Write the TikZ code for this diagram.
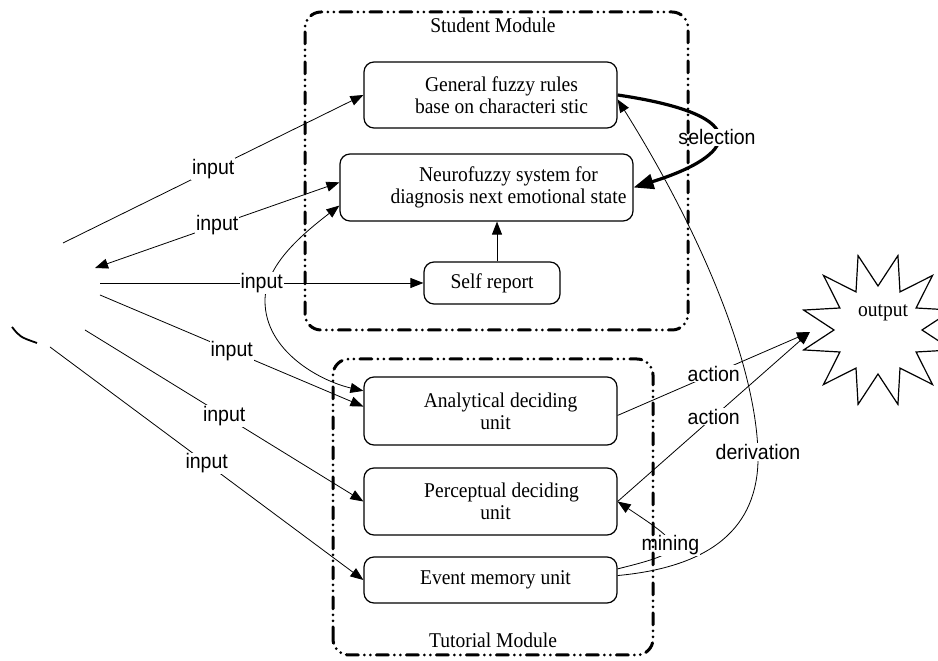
\documentclass[tikz,border=0pt]{standalone}
\usepackage{fontspec}
\setmainfont{Liberation Serif}[FakeStretch=0.93]
\newfontfamily\lblfont{Liberation Sans}[FakeStretch=0.93]
\usetikzlibrary{arrows.meta,shapes.geometric,calc}

\newcommand\lpad[1]{\hspace*{#1pt}}
\tikzset{
  unit/.style={draw,line width=1.2pt,rounded corners=10pt,align=center,inner sep=2pt},
  module/.style={line width=3pt,rounded corners=16pt,line cap=round,
    dash pattern=on 12pt off 6pt on 0pt off 6pt on 0pt off 6pt},
  lbl/.style={fill=white,inner sep=1pt,font=\lblfont\fontsize{21}{22}\selectfont},
  arr/.style={-{Triangle[length=13pt,width=10pt]},line width=0.8pt},
  arrs/.style={{Triangle[length=13pt,width=10pt]}-{Triangle[length=13pt,width=10pt]},line width=0.8pt},
  sel/.style={-{Triangle[length=20pt,width=15pt]},line width=3.2pt},
}

\begin{document}
\begin{tikzpicture}[x=1pt,y=1pt,font=\fontsize{21}{22}\selectfont]
	\useasboundingbox (0,0) rectangle (938,661);

	% student module
	\node[unit,minimum width=253,minimum height=66] (gen) at (490.5,566) {\lpad{22}General fuzzy rules\\\lpad{22}base on characteri stic};
	\node[unit,minimum width=293,minimum height=67] (neuro) at (486.5,473.5) {\lpad{44}Neurofuzzy system for\\\lpad{44}diagnosis next emotional state};
	\node[unit,minimum width=136,minimum height=42] (self) at (492,378) {Self report};
	\node (stud) at (493,636) {Student Module};

	% tutorial module
	\node[unit,minimum width=253,minimum height=68] (anal) at (490.5,250) {\lpad{20}Analytical deciding\\\lpad{10}unit};
	\node[unit,minimum width=253,minimum height=67] (perc) at (490.5,159.5) {\lpad{22}Perceptual deciding\\\lpad{10}unit};
	\node[unit,minimum width=253,minimum height=46] (event) at (490.5,81) {\lpad{10}Event memory unit};
	\node (tut) at (493,21) {Tutorial Module};

	\node[draw,star,star points=12,star point ratio=1.75,minimum size=154,line width=1.2pt,shape border rotate=15] (out) at (878,331) {};
	\node (outtxt) at (883,348) {output};
	\coordinate (hit) at ($(out.center)+(-68,-2)$);

	% left side
	\draw[line width=1.8pt] (12,334) .. controls (20,324) .. (37,318);
	\coordinate (s1) at (63,418);
	\coordinate (s2) at (95,393);
	\coordinate (s3) at (100,378);
	\coordinate (s4) at (100,366);
	\coordinate (s5) at (85,331);
	\coordinate (s6) at (50,314);

	\draw[arrs] (neuro.187) .. controls (300,425) and (265,395) .. (265,360) .. controls (265,310) and (320,280) .. (anal.171);
	\foreach \a/\b in {s1/gen.west,s3/self.west,s4/anal.178,s5/perc.west,s6/event.west}
		\draw[arr] (\a) -- node[lbl] (in\a) {input} (\b);
	\draw[arrs] (s2) -- node[lbl] (ins2) {input} (neuro.178);

	\draw[arr] ([xshift=5pt]self.north) -- ([xshift=5pt]self.north |- neuro.south);
	\draw[sel] (gen.east) .. controls (760,545) and (735,505) .. node[lbl] (lsel) {selection} (neuro.east);

	\draw[arr] (event.2) .. controls (720,95) and (760,140) .. (758,209) node[lbl] (lder) {derivation}
		.. controls (755,300) and (700,430) .. (gen.358);
	\draw[arr] (event.5) .. controls (690,110) and (686,114) .. node[lbl] (lmin) {mining} (perc.east);
	\draw[arr] (anal.358) -- node[lbl] (lact1) {action} (hit);
	\draw[arr] (perc.east) -- node[lbl] (lact2) {action} (hit);

	% module frames
	\draw[module] (305,331) rectangle (688,649);
	\draw[module] (333,6) rectangle (653,302);
\end{tikzpicture}
\end{document}
